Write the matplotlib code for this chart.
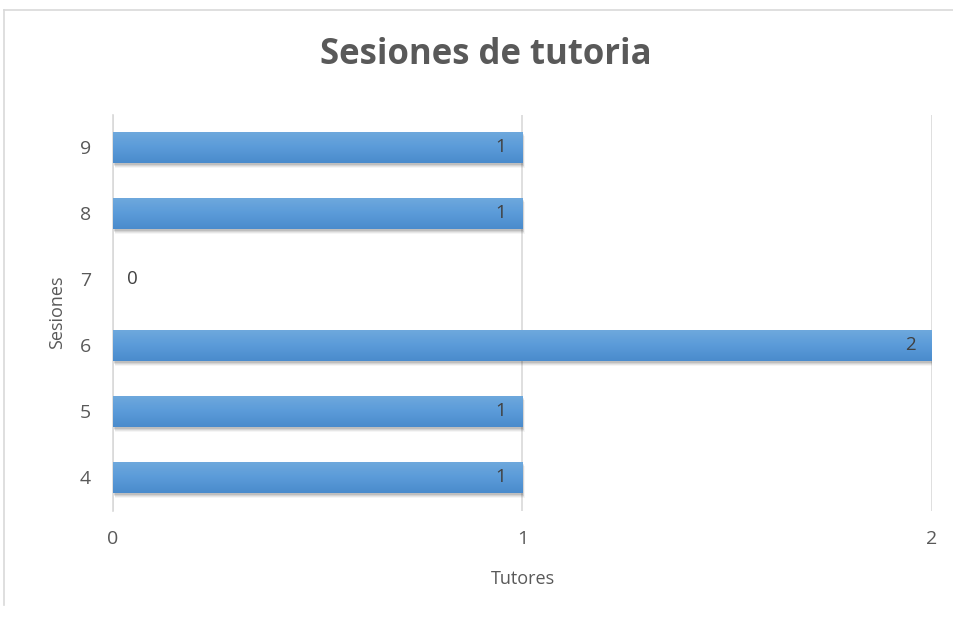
import matplotlib
matplotlib.use("Agg")
import matplotlib.pyplot as plt
import matplotlib.transforms as mtransforms
from matplotlib.lines import Line2D
from matplotlib.colors import LinearSegmentedColormap
import numpy as np

plt.rcParams['font.family'] = ['Open Sans', 'DejaVu Sans']

sesiones = ['4', '5', '6', '7', '8', '9']
tutores = [1, 1, 2, 0, 1, 1]
xticks = [0, 1, 2]
title = 'Sesiones de tutoria'
xlabel = 'Tutores'
ylabel = 'Sesiones'

fig = plt.figure(figsize=(9.54, 6.19), dpi=100)
ax = fig.add_axes([113/954, 1 - 510.5/619, (932-113)/954, (510.5-114.5)/619])

ypos = np.arange(len(sesiones))
bar_h = 0.47

# shadows
for k, a in enumerate([0.10, 0.08, 0.06, 0.04]):
    off = mtransforms.offset_copy(ax.transData, fig=fig, x=1.0 + 0.5*k, y=-(1.5 + 1.0*k), units='dots')
    ax.barh(ypos, tutores, height=bar_h, color='#000000', alpha=a, transform=off, zorder=2, linewidth=0)

bars = ax.barh(ypos, tutores, height=bar_h, color='none', zorder=3, linewidth=0)
grad = np.linspace(0, 1, 64).reshape(-1, 1)
cmap = LinearSegmentedColormap.from_list('g', ['#4a8bcc', '#5b9bd9', '#6fa9dd'])
for b in bars:
    w = b.get_width()
    if w <= 0:
        continue
    y0 = b.get_y()
    im = ax.imshow(grad, extent=(0, w, y0, y0 + bar_h), origin='lower', cmap=cmap,
                   aspect='auto', zorder=3, interpolation='bicubic')
    im.set_clip_path(b)

for y, v in zip(ypos, tutores):
    if v > 0:
        ax.annotate(str(v), (v, y), xytext=(-12, 0), textcoords='offset points',
                    ha='right', va='center', fontsize=13.5, color='#404040', zorder=5)
    else:
        ax.annotate(str(v), (v, y), xytext=(10, 0), textcoords='offset points',
                    ha='left', va='center', fontsize=13.5, color='#404040', zorder=5)

ax.set_xlim(0, 2)
ax.set_ylim(-0.5, len(sesiones) - 0.5)
ax.set_xticks(xticks)
ax.set_xticklabels([str(t) for t in xticks])
ax.set_yticks(ypos)
ax.set_yticklabels(sesiones)
ax.grid(axis='x', color='#d9d9d9', linewidth=1.2, zorder=0)
ax.set_axisbelow(True)
for s in ['top', 'right', 'bottom']:
    ax.spines[s].set_visible(False)
ax.spines['left'].set_color('#d9d9d9')
ax.spines['left'].set_linewidth(1.2)
ax.tick_params(axis='both', length=0, labelsize=14, labelcolor='#595959')
ax.tick_params(axis='y', pad=16)
ax.tick_params(axis='x', pad=14)
ax.set_xlabel(xlabel, fontsize=13, color='#595959', labelpad=16)
ax.set_ylabel(ylabel, fontsize=13, color='#595959', labelpad=10)

fig.text(486/954, 1 - 55/619, title, ha='center', va='center', fontsize=25,
         fontweight='bold', color='#595959')

# outer chart border (top and left)
fig.add_artist(Line2D([4/954, 1], [1 - 9.5/619, 1 - 9.5/619], transform=fig.transFigure, color='#d9d9d9', linewidth=1.2))
fig.add_artist(Line2D([4/954, 4/954], [1 - 9.5/619, 1 - 605/619], transform=fig.transFigure, color='#d9d9d9', linewidth=1.2))

fig.savefig('out.png', dpi=100, facecolor='white')
